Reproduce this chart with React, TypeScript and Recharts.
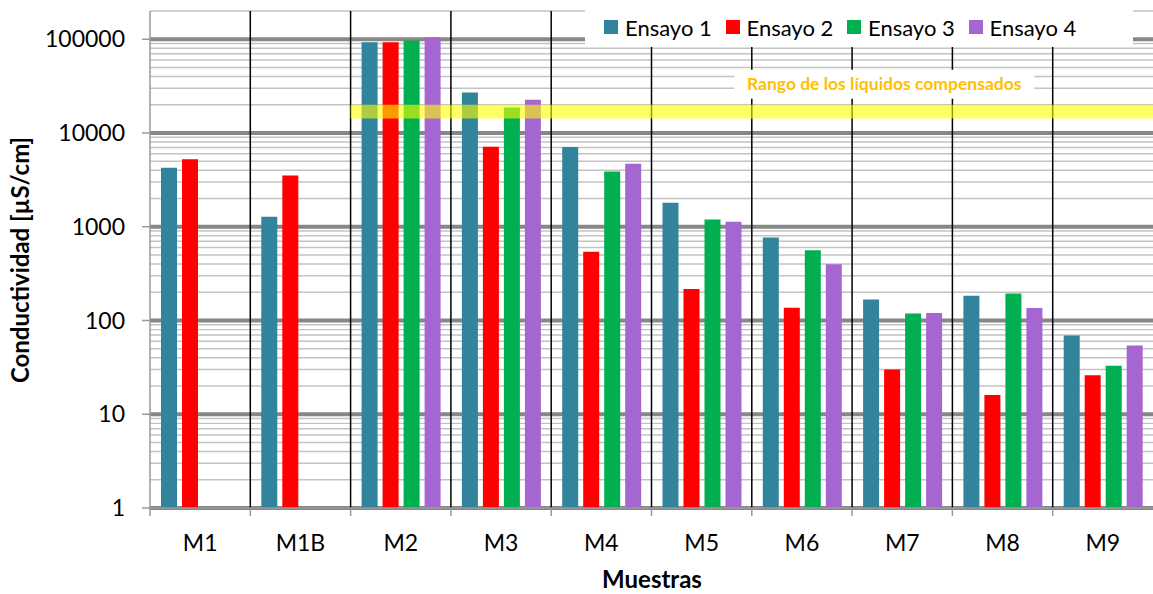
import React from 'react';
import {
  BarChart,
  Bar,
  XAxis,
  YAxis,
  CartesianGrid,
  Legend,
  ReferenceArea,
  Label,
} from 'recharts';

// Conductividad medida por muestra en cuatro ensayos (µS/cm)
const muestras = ['M1', 'M1B', 'M2', 'M3', 'M4', 'M5', 'M6', 'M7', 'M8', 'M9'];
const ensayo1 = [4250, 1275, 93000, 27000, 7100, 1800, 767, 167, 184, 69];
const ensayo2 = [5250, 3520, 93000, 7120, 540, 217, 137, 30, 16, 26];
const ensayo3 = [null, null, 97000, 18700, 3880, 1194, 561, 119, 194, 33];
const ensayo4 = [null, null, 105000, 22600, 4690, 1128, 398, 120, 136, 54];

const seriesNames = ['Ensayo 1', 'Ensayo 2', 'Ensayo 3', 'Ensayo 4'];
const seriesKeys = ['e1', 'e2', 'e3', 'e4'];
const seriesColors = ['#31849B', '#FF0000', '#00B050', '#A566D2'];

const decadeTicks = [1, 10, 100, 1000, 10000, 100000];
const yDomain = [1, 200000];
// Rango de los líquidos compensados
const rangoCompensado = [14300, 20000];
const rangoTexto = 'Rango de los líquidos compensados';

const data = muestras.map((m, i) => ({
  muestra: m,
  e1: ensayo1[i],
  e2: ensayo2[i],
  e3: ensayo3[i],
  e4: ensayo4[i],
}));

// líneas secundarias 2..9 × 10^n
const minorValues: number[] = [];
decadeTicks.forEach((d) => {
  for (let k = 2; k <= 9; k++) {
    const v = k * d;
    if (v <= yDomain[1]) minorValues.push(v);
  }
});

const FONT = "Lato, 'Open Sans', sans-serif";
const AXIS_GRAY = '#9a9a9a';

const XTick = (props: any) => {
  const { x, y, payload, width, visibleTicksCount } = props;
  const band = (width ?? 1003) / (visibleTicksCount ?? muestras.length);
  const left = x - band / 2;
  return (
    <g>
      <line x1={left} x2={left} y1={y} y2={y + 8} stroke={AXIS_GRAY} strokeWidth={1.5} />
      <text x={x} y={y + 43} textAnchor="middle" fontFamily={FONT} fontSize={23} fill="#000">
        {payload.value}
      </text>
    </g>
  );
};

const LegendBox = (props: any) => {
  const { payload } = props;
  return (
    <div
      style={{
        background: '#fff',
        height: 40,
        display: 'flex',
        alignItems: 'center',
        paddingLeft: 19,
        fontFamily: FONT,
        fontSize: 22,
        color: '#000',
        boxSizing: 'border-box',
      }}
    >
      {(payload || []).map((p: any) => (
        <div key={p.value} style={{ display: 'flex', alignItems: 'center', width: 121.5 }}>
          <span
            style={{ display: 'inline-block', width: 14, height: 14, background: p.color, marginRight: 7 }}
          />
          <span style={{ whiteSpace: 'nowrap' }}>{p.value}</span>
        </div>
      ))}
    </div>
  );
};

const RangoLabel = (props: any) => {
  const vb = props.viewBox || {};
  const cx = vb.x + vb.width * 0.665;
  const top = vb.y - 35;
  return (
    <g>
      <rect x={cx - 150} y={top} width={300} height={29} fill="#fff" />
      <text
        x={cx}
        y={top + 20}
        textAnchor="middle"
        fontFamily={FONT}
        fontWeight={700}
        fontSize={17.5}
        fill="#FFC000"
      >
        {rangoTexto}
      </text>
    </g>
  );
};

export default function App() {
  return (
    <div style={{ position: 'absolute', left: 0, top: 0, width: 1153, height: 594, background: '#fff' }}>
      <BarChart
        width={1153}
        height={594}
        data={data}
        margin={{ top: 11, right: 0, bottom: 0, left: 0 }}
        barCategoryGap={11}
        barGap={5}
      >
        <CartesianGrid
          vertical={false}
          horizontalValues={minorValues}
          stroke="#c3c3c3"
          strokeWidth={1.4}
        />
        <CartesianGrid
          vertical={false}
          horizontalValues={decadeTicks}
          stroke="#878787"
          strokeWidth={4}
        />
        <CartesianGrid
          horizontal={false}
          stroke="#000"
          strokeWidth={1.5}
          verticalCoordinatesGenerator={({ offset }: any) =>
            muestras.slice(1).map((_, i) => offset.left + ((i + 1) * offset.width) / muestras.length)
          }
        />
        <XAxis
          dataKey="muestra"
          height={86}
          tickLine={false}
          tickSize={0}
          tickMargin={0}
          axisLine={{ stroke: AXIS_GRAY, strokeWidth: 1.5 }}
          tick={<XTick />}
          interval={0}
        >
          <Label
            content={() => (
              <text x={652} y={588} textAnchor="middle" fontFamily={FONT} fontWeight={700} fontSize={24} fill="#000">
                Muestras
              </text>
            )}
          />
        </XAxis>
        <YAxis
          scale="log"
          domain={yDomain}
          allowDataOverflow
          ticks={decadeTicks}
          interval={0}
          width={150}
          tickSize={8}
          tickMargin={17}
          tickLine={{ stroke: AXIS_GRAY, strokeWidth: 1.5 }}
          axisLine={{ stroke: AXIS_GRAY, strokeWidth: 1.5 }}
          tick={{ fontFamily: FONT, fontSize: 23, fill: '#000' }}
        >
          <Label
            content={() => (
              <text
                x={21}
                y={260}
                transform="rotate(-90 21 260)"
                textAnchor="middle"
                dy="0.35em"
                fontFamily={FONT}
                fontWeight={700}
                fontSize={24}
                fill="#000"
              >
                Conductividad [µS/cm]
              </text>
            )}
          />
        </YAxis>
        <Legend
          layout="vertical"
          verticalAlign="middle"
          align="center"
          content={<LegendBox />}
          wrapperStyle={{ left: 585, top: 7, width: 548, height: 40 }}
        />
        {seriesKeys.map((k, i) => (
          <Bar
            key={k}
            dataKey={k}
            name={seriesNames[i]}
            fill={seriesColors[i]}
            isAnimationActive={false}
          />
        ))}
        <ReferenceArea
          x1={muestras[2]}
          x2={muestras[muestras.length - 1]}
          y1={rangoCompensado[0]}
          y2={rangoCompensado[1]}
          fill="#FFFF00"
          fillOpacity={0.6}
          stroke="none"
          ifOverflow="visible"
          zIndex={450}
          label={<RangoLabel />}
        />
      </BarChart>
    </div>
  );
}
